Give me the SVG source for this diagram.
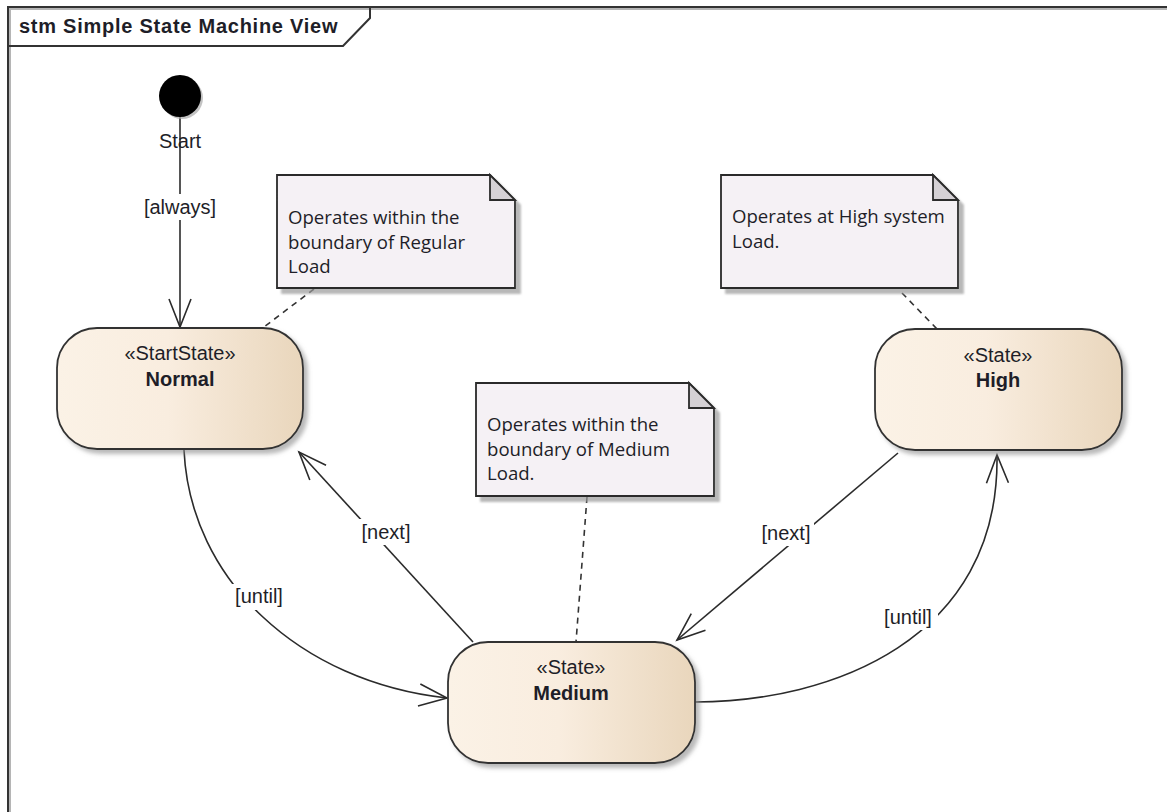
<svg xmlns="http://www.w3.org/2000/svg" width="1167" height="812" viewBox="0 0 1167 812">
  <defs>
    <linearGradient id="stateFill" x1="0" y1="0" x2="1" y2="0">
      <stop offset="0" stop-color="#fbf2e6"/>
      <stop offset="0.45" stop-color="#f9eddf"/>
      <stop offset="1" stop-color="#e9d6bc"/>
    </linearGradient>
    <filter id="shadow" x="-10%" y="-10%" width="130%" height="130%">
      <feDropShadow dx="4" dy="4" stdDeviation="2" flood-color="#8a8a8a" flood-opacity="0.6"/>
    </filter>
    <filter id="noteShadow" x="-10%" y="-10%" width="130%" height="130%">
      <feDropShadow dx="5" dy="5" stdDeviation="1.2" flood-color="#9a9a9a" flood-opacity="0.7"/>
    </filter>
    <marker id="open" viewBox="-31 -14 34 28" markerWidth="34" markerHeight="28" refX="0" refY="0" orient="auto" markerUnits="userSpaceOnUse">
      <path d="M-28,-11 L0,0 L-28,11" fill="none" stroke="#2b2b2b" stroke-width="1.6"/>
    </marker>
  </defs>
  <style>
    .frame { fill: none; stroke: #333; stroke-width: 2; }
    .state { fill: url(#stateFill); stroke: #333; stroke-width: 1.8; filter: url(#shadow); }
    .note { fill: #f5f1f5; stroke: #2b2b2b; stroke-width: 1.8; filter: url(#noteShadow); }
    .fold { fill: #d5d1d5; stroke: #2b2b2b; stroke-width: 1.8; }
    .edge { fill: none; stroke: #2b2b2b; stroke-width: 1.6; marker-end: url(#open); }
    .anchor { fill: none; stroke: #333; stroke-width: 1.6; stroke-dasharray: 6 5; }
    .lbl-bg { fill: #ffffff; }
    .t { font-family: "Liberation Sans", Arial, sans-serif; font-size: 20px; fill: #1e1e28; }
    .c { text-anchor: middle; }
    .b { font-weight: bold; }
    .n { font-family: "Open Sans", "Noto Sans", sans-serif; font-size: 18.6px; fill: #1e1e28; }
  </style>

  <rect width="1167" height="812" fill="#ffffff"/>

  <!-- diagram frame -->
  <g id="frame">
    <path d="M10,812 V9 H1167" fill="none" stroke="#b5b5b5" stroke-width="2"/>
    <path class="frame" d="M8,812 V7 H1167"/>
    <path class="frame" d="M8,46 H343 L370,18 V7"/>
    <text class="t b" x="19" y="33" font-size="21" letter-spacing="0.75">stm Simple State Machine View</text>
  </g>

  <!-- connectors -->
  <g id="connectors">
    <line class="edge" x1="180" y1="117" x2="180" y2="327"/>
    <path class="edge" d="M184,450 C190,580 300,682 447,698"/>
    <line class="edge" x1="473" y1="642" x2="299" y2="452"/>
    <line class="edge" x1="898" y1="453" x2="677" y2="640"/>
    <path class="edge" d="M695,702 C830,702 1000,640 997,455"/>

    <line class="anchor" x1="314" y1="289" x2="264" y2="327"/>
    <line class="anchor" x1="587" y1="497" x2="576" y2="642"/>
    <line class="anchor" x1="902" y1="293" x2="937" y2="329"/>

    <rect class="lbl-bg" x="140" y="194" width="80" height="26"/>
    <text class="t c" x="180" y="214">[always]</text>
    <rect class="lbl-bg" x="229" y="584" width="60" height="26"/>
    <text class="t c" x="259" y="603">[until]</text>
    <rect class="lbl-bg" x="358" y="519" width="56" height="26"/>
    <text class="t c" x="386" y="539">[next]</text>
    <rect class="lbl-bg" x="758" y="520" width="56" height="26"/>
    <text class="t c" x="786" y="540">[next]</text>
    <rect class="lbl-bg" x="878" y="604" width="60" height="26"/>
    <text class="t c" x="908" y="624">[until]</text>
  </g>

  <!-- initial pseudostate -->
  <g id="start">
    <circle cx="182" cy="98" r="21" fill="#aaaaaa" opacity="0.7"/>
    <circle cx="180" cy="96" r="21" fill="#000000"/>
    <text class="t c" x="180" y="148">Start</text>
  </g>

  <!-- states -->
  <g id="normal">
    <rect class="state" x="57" y="328" width="246" height="121" rx="40" ry="40"/>
    <text class="t c" x="180" y="360">«StartState»</text>
    <text class="t c b" x="180" y="386">Normal</text>
  </g>

  <g id="high">
    <rect class="state" x="875" y="329" width="247" height="121" rx="40" ry="40"/>
    <text class="t c" x="998" y="362">«State»</text>
    <text class="t c b" x="998" y="387">High</text>
  </g>

  <g id="medium">
    <rect class="state" x="448" y="642" width="247" height="121" rx="40" ry="40"/>
    <text class="t c" x="571" y="674">«State»</text>
    <text class="t c b" x="571" y="700">Medium</text>
  </g>

  <!-- notes -->
  <g id="note-normal">
    <path class="note" d="M277,175 H490 L515,200 V288 H277 Z"/>
    <path class="fold" d="M490,175 V200 H515 Z"/>
    <text class="n" x="288" y="224">Operates within the</text>
    <text class="n" x="288" y="249">boundary of Regular</text>
    <text class="n" x="288" y="273">Load</text>
  </g>

  <g id="note-medium">
    <path class="note" d="M476,383 H689 L714,408 V496 H476 Z"/>
    <path class="fold" d="M689,383 V408 H714 Z"/>
    <text class="n" x="487" y="431">Operates within the</text>
    <text class="n" x="487" y="456">boundary of Medium</text>
    <text class="n" x="487" y="480">Load.</text>
  </g>

  <g id="note-high">
    <path class="note" d="M721,175 H933 L958,200 V288 H721 Z"/>
    <path class="fold" d="M933,175 V200 H958 Z"/>
    <text class="n" x="732" y="223">Operates at High system</text>
    <text class="n" x="732" y="248">Load.</text>
  </g>
</svg>
